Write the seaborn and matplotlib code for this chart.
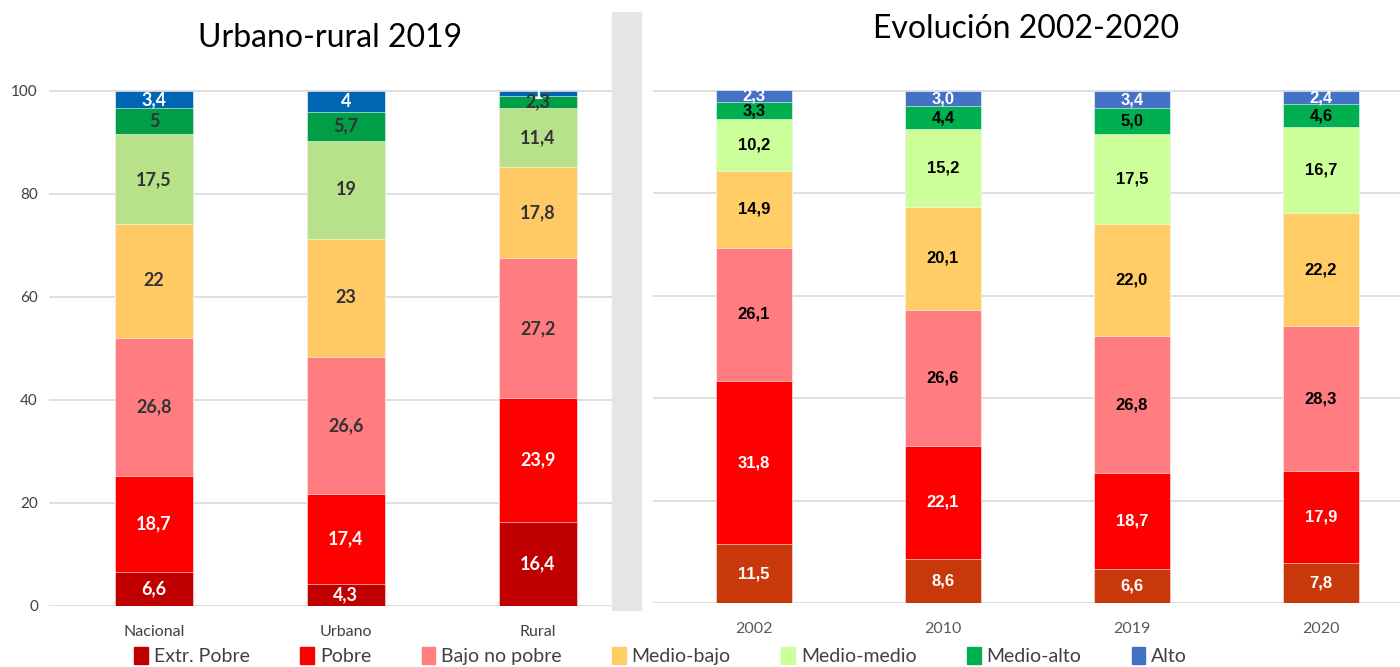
import matplotlib
matplotlib.use("Agg")
import matplotlib.pyplot as plt
import matplotlib.patches as mpatches
import seaborn as sns
import pandas as pd
import numpy as np

# Data
niveles = ["Extr. Pobre", "Pobre", "Bajo no pobre", "Medio-bajo", "Medio-medio", "Medio-alto", "Alto"]

zonas = ["Nacional", "Urbano", "Rural"]
nacional = [6.6, 18.7, 26.8, 22, 17.5, 5, 3.4]
urbano = [4.3, 17.4, 26.6, 23, 19, 5.7, 4]
rural = [16.4, 23.9, 27.2, 17.8, 11.4, 2.3, 1]

anios = ["2002", "2010", "2019", "2020"]
v2002 = [11.5, 31.8, 26.1, 14.9, 10.2, 3.3, 2.3]
v2010 = [8.6, 22.1, 26.6, 20.1, 15.2, 4.4, 3.0]
v2019 = [6.6, 18.7, 26.8, 22.0, 17.5, 5.0, 3.4]
v2020 = [7.8, 17.9, 28.3, 22.2, 16.7, 4.6, 2.4]

colores_izq = ["#C00000", "#FF0000", "#FF7C80", "#FFC966", "#B8E28A", "#009E47", "#0066B3"]
colores_der = ["#C9380A", "#FF0000", "#FF7C80", "#FFCC66", "#CCFF99", "#00B050", "#4472C4"]
colores_leyenda = ["#C00000", "#FF0000", "#FF8080", "#FFCC66", "#CCFF99", "#00B050", "#4472C4"]

txt_izq = ["white", "white", "#333333", "#333333", "#333333", "#333333", "white"]
txt_der = ["white", "white", "black", "black", "black", "black", "white"]

sns.set_style("white")
plt.rcParams["font.family"] = ["Lato", "DejaVu Sans"]


def stacked(ax, cats, series, colores, txtcol, fmt, family, fsize, width):
    df = pd.DataFrame(series, index=cats, columns=niveles)
    cum = df.cumsum(axis=1)
    # draw from top layer down so every layer stays visible
    for j in range(len(niveles) - 1, -1, -1):
        d = pd.DataFrame({"cat": cats, "val": cum.iloc[:, j].values})
        sns.barplot(data=d, x="cat", y="val", color=colores[j], width=width,
                    saturation=1, ax=ax, edgecolor="white", linewidth=0.4, zorder=2)
    for i, c in enumerate(cats):
        for j, n in enumerate(niveles):
            v = df.loc[c, n]
            y = cum.loc[c, n] - v / 2
            ax.text(i, y, fmt(v), ha="center", va="center", color=txtcol[j],
                    fontsize=fsize, fontweight="bold", family=family, zorder=3)
    ax.set_ylim(0, 102)
    ax.set_yticks(range(0, 101, 20))
    ax.yaxis.grid(True, color="#D9D9D9", linewidth=1.2, zorder=0)
    ax.set_axisbelow(True)
    ax.set_xlabel("")
    ax.set_ylabel("")
    sns.despine(ax=ax, left=True, bottom=True)
    ax.tick_params(axis="both", length=0)


def coma(v, dec=None):
    if dec is None:
        s = f"{v:g}"
    else:
        s = f"{v:.{dec}f}"
    return s.replace(".", ",")


fig = plt.figure(figsize=(14, 6.67), dpi=100)

ax1 = fig.add_axes([0.035, 0.0915, 0.402, 0.7876])
stacked(ax1, zonas, [nacional, urbano, rural], colores_izq, txt_izq,
        lambda v: coma(v), ["Lato", "DejaVu Sans"], 13, 0.41)
ax1.set_xlim(-0.547, 2.385)
ax1.tick_params(axis="x", pad=14, labelsize=11.5, labelcolor="#404040")
ax1.tick_params(axis="y", pad=8, labelsize=11, labelcolor="#404040")
ax1.set_title("Urbano-rural 2019", fontsize=23, pad=24, color="black")

ax2 = fig.add_axes([0.4664, 0.096, 0.5336, 0.783])
stacked(ax2, anios, [v2002, v2010, v2019, v2020], colores_der, txt_der,
        lambda v: coma(v, 1), ["Liberation Sans", "DejaVu Sans"], 12, 0.40)
ax2.set_xlim(-0.534, 3.418)
ax2.set_yticklabels([])
ax2.tick_params(axis="x", pad=14, labelsize=11.5, labelcolor="#595959")
ax2.set_title("Evolución 2002-2020", fontsize=23, pad=31, color="black")

# gray divider between panels
fig.patches.append(mpatches.Rectangle((0.437, 0.0855), 0.021, 0.8965,
                                      transform=fig.transFigure, color="#E6E6E6", zorder=0))

handles = [mpatches.Patch(color=c) for c in colores_leyenda]
fig.legend(handles, niveles, loc="center", bbox_to_anchor=(0.472, 0.016), ncol=7,
           frameon=False, fontsize=14, handlelength=0.7, handleheight=0.9,
           handletextpad=0.3, columnspacing=2.6, labelcolor="#404040")

fig.savefig("out.png", dpi=100)
